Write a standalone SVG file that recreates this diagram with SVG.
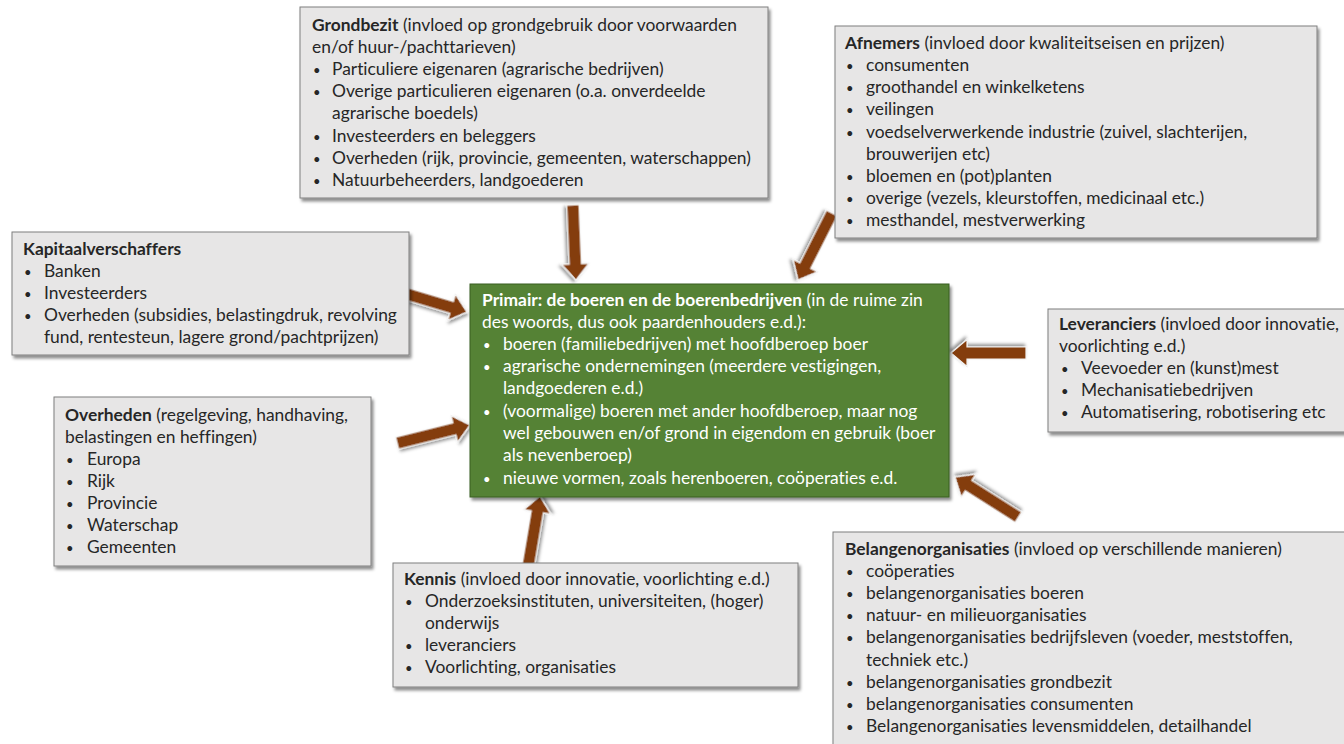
<svg xmlns="http://www.w3.org/2000/svg" width="1344" height="744" viewBox="0 0 1344 744">
<defs>
<filter id="sh" x="-5%" y="-5%" width="115%" height="115%">
<feDropShadow dx="2" dy="3" stdDeviation="1.8" flood-color="#000" flood-opacity="0.45"/>
</filter>
<filter id="sh2" x="-30%" y="-50%" width="160%" height="200%">
<feDropShadow dx="1.5" dy="2.5" stdDeviation="1.5" flood-color="#000" flood-opacity="0.4"/>
</filter>
<path id="arr" d="M0,0 L-16,-13.5 L-16,-6 L-75,-6 L-75,6 L-16,6 L-16,13.5 Z"/>
<style>
.box{fill:#e7e6e6;stroke:#7f7f7f;stroke-width:1;filter:url(#sh)}
.green{fill:#548235;stroke:#3b5e24;stroke-width:1;filter:url(#sh)}
.t{font-family:Lato,"Liberation Sans",sans-serif;font-size:17.4px;fill:#262626;font-variant-ligatures:none;font-feature-settings:"liga" 0,"dlig" 0}
.w{fill:#ffffff}
.b{font-weight:bold}
.bu{font-size:13px}
.arrow{fill:#843c0c;stroke:#f2f2f2;stroke-width:1.2;filter:url(#sh2)}
</style>
</defs>
<rect width="1344" height="744" fill="#ffffff"/>

<g id="connectors">
<use href="#arr" class="arrow" transform="translate(576,280) rotate(87.6)"/>
<use href="#arr" class="arrow" transform="translate(798,280) rotate(116.9)"/>
<use href="#arr" class="arrow" transform="translate(467,312) rotate(16.6)"/>
<use href="#arr" class="arrow" transform="translate(470,425) rotate(-14)"/>
<use href="#arr" class="arrow" transform="translate(951,353) rotate(180)"/>
<use href="#arr" class="arrow" transform="translate(955,477) rotate(-147.6)"/>
<use href="#arr" class="arrow" transform="translate(540,496) rotate(-80.4)"/>
</g>

<g id="grondbezit">
<rect class="box" x="300" y="7" width="468" height="191"/>
<text class="t" y="31"><tspan x="312" class="b">Grondbezit</tspan> (invloed op grondgebruik door voorwaarden</text>
<text class="t" x="312" y="53">en/of huur-/pachttarieven)</text>
<text class="t" y="75"><tspan x="313" class="bu">•</tspan><tspan x="332">Particuliere eigenaren (agrarische bedrijven)</tspan></text>
<text class="t" y="97"><tspan x="313" class="bu">•</tspan><tspan x="332">Overige particulieren eigenaren (o.a. onverdeelde</tspan></text>
<text class="t" x="332" y="119">agrarische boedels)</text>
<text class="t" y="142"><tspan x="313" class="bu">•</tspan><tspan x="332">Investeerders en beleggers</tspan></text>
<text class="t" y="164"><tspan x="313" class="bu">•</tspan><tspan x="332">Overheden (rijk, provincie, gemeenten, waterschappen)</tspan></text>
<text class="t" y="186"><tspan x="313" class="bu">•</tspan><tspan x="332">Natuurbeheerders, landgoederen</tspan></text>
</g>

<g id="afnemers">
<rect class="box" x="835" y="26" width="482" height="212"/>
<text class="t" y="49"><tspan x="845" class="b">Afnemers</tspan> (invloed door kwaliteitseisen en prijzen)</text>
<text class="t" y="71"><tspan x="846" class="bu">•</tspan><tspan x="866">consumenten</tspan></text>
<text class="t" y="93"><tspan x="846" class="bu">•</tspan><tspan x="866">groothandel en winkelketens</tspan></text>
<text class="t" y="115"><tspan x="846" class="bu">•</tspan><tspan x="866">veilingen</tspan></text>
<text class="t" y="138"><tspan x="846" class="bu">•</tspan><tspan x="866">voedselverwerkende industrie (zuivel, slachterijen,</tspan></text>
<text class="t" x="866" y="160">brouwerijen etc)</text>
<text class="t" y="182"><tspan x="846" class="bu">•</tspan><tspan x="866">bloemen en (pot)planten</tspan></text>
<text class="t" y="204"><tspan x="846" class="bu">•</tspan><tspan x="866">overige (vezels, kleurstoffen, medicinaal etc.)</tspan></text>
<text class="t" y="226"><tspan x="846" class="bu">•</tspan><tspan x="866">mesthandel, mestverwerking</tspan></text>
</g>

<g id="kapitaalverschaffers">
<rect class="box" x="12" y="232" width="397" height="123"/>
<text class="t b" x="23" y="255">Kapitaalverschaffers</text>
<text class="t" y="277"><tspan x="24" class="bu">•</tspan><tspan x="44">Banken</tspan></text>
<text class="t" y="299"><tspan x="24" class="bu">•</tspan><tspan x="44">Investeerders</tspan></text>
<text class="t" y="321"><tspan x="24" class="bu">•</tspan><tspan x="44">Overheden (subsidies, belastingdruk, revolving</tspan></text>
<text class="t" x="44" y="343">fund, rentesteun, lagere grond/pachtprijzen)</text>
</g>

<g id="overheden">
<rect class="box" x="54" y="397" width="317" height="169"/>
<text class="t" y="421"><tspan x="65" class="b">Overheden</tspan> (regelgeving, handhaving,</text>
<text class="t" x="65" y="443">belastingen en heffingen)</text>
<text class="t" y="465"><tspan x="66" class="bu">•</tspan><tspan x="87">Europa</tspan></text>
<text class="t" y="487"><tspan x="66" class="bu">•</tspan><tspan x="87">Rijk</tspan></text>
<text class="t" y="509"><tspan x="66" class="bu">•</tspan><tspan x="87">Provincie</tspan></text>
<text class="t" y="531"><tspan x="66" class="bu">•</tspan><tspan x="87">Waterschap</tspan></text>
<text class="t" y="553"><tspan x="66" class="bu">•</tspan><tspan x="87">Gemeenten</tspan></text>
</g>

<g id="primair">
<rect class="green" x="470" y="284" width="479" height="213"/>
<text class="t w" y="306"><tspan x="482" class="b">Primair: de boeren en de boerenbedrijven</tspan> (in de ruime zin</text>
<text class="t w" x="482" y="328">des woords, dus ook paardenhouders e.d.):</text>
<text class="t w" y="350"><tspan x="483" class="bu">•</tspan><tspan x="503">boeren (familiebedrijven) met hoofdberoep boer</tspan></text>
<text class="t w" y="372"><tspan x="483" class="bu">•</tspan><tspan x="503">agrarische ondernemingen (meerdere vestigingen,</tspan></text>
<text class="t w" x="503" y="394">landgoederen e.d.)</text>
<text class="t w" y="417"><tspan x="483" class="bu">•</tspan><tspan x="503">(voormalige) boeren met ander hoofdberoep, maar nog</tspan></text>
<text class="t w" x="503" y="439">wel gebouwen en/of grond in eigendom en gebruik (boer</text>
<text class="t w" x="503" y="461">als nevenberoep)</text>
<text class="t w" y="484"><tspan x="483" class="bu">•</tspan><tspan x="503">nieuwe vormen, zoals herenboeren, coöperaties e.d.</tspan></text>
</g>

<g id="leveranciers">
<rect class="box" x="1048" y="309" width="310" height="123"/>
<text class="t" y="330"><tspan x="1059" class="b">Leveranciers</tspan> (invloed door innovatie,</text>
<text class="t" x="1059" y="352">voorlichting e.d.)</text>
<text class="t" y="374"><tspan x="1061" class="bu">•</tspan><tspan x="1081">Veevoeder en (kunst)mest</tspan></text>
<text class="t" y="396"><tspan x="1061" class="bu">•</tspan><tspan x="1081">Mechanisatiebedrijven</tspan></text>
<text class="t" y="418"><tspan x="1061" class="bu">•</tspan><tspan x="1081">Automatisering, robotisering etc</tspan></text>
</g>

<g id="kennis">
<rect class="box" x="393" y="563" width="405" height="124"/>
<text class="t" y="585"><tspan x="404" class="b">Kennis</tspan> (invloed door innovatie, voorlichting e.d.)</text>
<text class="t" y="607"><tspan x="405" class="bu">•</tspan><tspan x="425">Onderzoeksinstituten, universiteiten, (hoger)</tspan></text>
<text class="t" x="425" y="629">onderwijs</text>
<text class="t" y="651"><tspan x="405" class="bu">•</tspan><tspan x="425">leveranciers</tspan></text>
<text class="t" y="673"><tspan x="405" class="bu">•</tspan><tspan x="425">Voorlichting, organisaties</tspan></text>
</g>

<g id="belangenorganisaties">
<rect class="box" x="833" y="532" width="520" height="230"/>
<text class="t" y="555"><tspan x="845" class="b">Belangenorganisaties</tspan> (invloed op verschillende manieren)</text>
<text class="t" y="577"><tspan x="846" class="bu">•</tspan><tspan x="866">coöperaties</tspan></text>
<text class="t" y="599"><tspan x="846" class="bu">•</tspan><tspan x="866">belangenorganisaties boeren</tspan></text>
<text class="t" y="621"><tspan x="846" class="bu">•</tspan><tspan x="866">natuur- en milieuorganisaties</tspan></text>
<text class="t" y="643"><tspan x="846" class="bu">•</tspan><tspan x="866">belangenorganisaties bedrijfsleven (voeder, meststoffen,</tspan></text>
<text class="t" x="866" y="666">techniek etc.)</text>
<text class="t" y="688"><tspan x="846" class="bu">•</tspan><tspan x="866">belangenorganisaties grondbezit</tspan></text>
<text class="t" y="710"><tspan x="846" class="bu">•</tspan><tspan x="866">belangenorganisaties consumenten</tspan></text>
<text class="t" y="732"><tspan x="846" class="bu">•</tspan><tspan x="866">Belangenorganisaties levensmiddelen, detailhandel</tspan></text>
</g>
</svg>
